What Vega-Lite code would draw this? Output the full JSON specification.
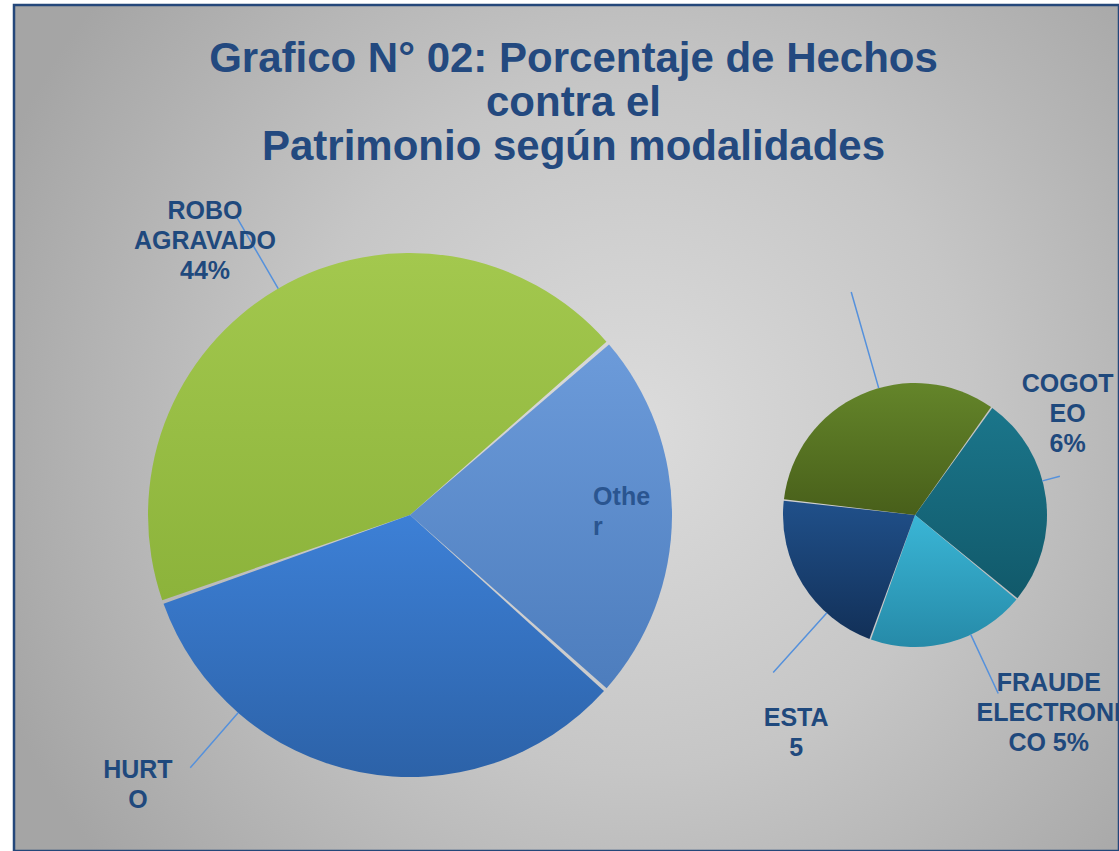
{
  "$schema": "https://vega.github.io/schema/vega-lite/v6.json",
  "width": 1105,
  "height": 846,
  "autosize": {"type": "none"},
  "padding": {"left": 14, "top": 5, "right": 0, "bottom": 0},
  "background": "#ffffff",
  "config": {
    "font": "Liberation Sans",
    "view": {
      "fill": {"gradient": "radial", "x1": 0.56, "y1": 0.5, "r1": 0, "x2": 0.56, "y2": 0.5, "r2": 0.62,
        "stops": [{"offset": 0, "color": "#dcdcdc"}, {"offset": 0.5, "color": "#c6c6c6"}, {"offset": 1, "color": "#a5a5a5"}]},
      "stroke": "#24477a",
      "strokeWidth": 2.5
    }
  },
  "title": {
    "text": ["Grafico N° 02: Porcentaje de Hechos", "contra el", "Patrimonio según modalidades"],
    "font": "Liberation Sans",
    "fontSize": 42,
    "fontWeight": "bold",
    "color": "#23497f",
    "lineHeight": 44,
    "anchor": "middle",
    "frame": "group",
    "offset": -164,
    "dx": 7
  },
  "data": {
    "values": [
      {"pie": "principal", "orden": 1, "categoria": "ROBO AGRAVADO", "valor": 44, "etiqueta": "ROBO\nAGRAVADO\n44%"},
      {"pie": "principal", "orden": 2, "categoria": "Other", "valor": 23, "etiqueta": "Othe\nr"},
      {"pie": "principal", "orden": 3, "categoria": "HURTO", "valor": 33, "etiqueta": "HURT\nO"},
      {"pie": "secundario", "orden": 1, "categoria": "COGOTEO", "valor": 6, "etiqueta": "COGOT\nEO\n6%"},
      {"pie": "secundario", "orden": 2, "categoria": "FRAUDE ELECTRONICO", "valor": 4.5, "etiqueta": "FRAUDE\nELECTRONI\nCO 5%"},
      {"pie": "secundario", "orden": 3, "categoria": "ESTAFA", "valor": 4.9, "etiqueta": "ESTA\n5"},
      {"pie": "secundario", "orden": 4, "categoria": "Sin etiqueta", "valor": 7.6, "etiqueta": ""}
    ]
  },
  "transform": [
    {"stack": "valor", "groupby": ["pie"], "sort": [{"field": "orden", "order": "ascending"}], "offset": "normalize", "as": ["t0", "t1"]},
    {"fold": ["t0", "t1"], "as": ["extremo", "angulo"]},
    {"aggregate": [
      {"op": "mean", "field": "angulo", "as": "medio"},
      {"op": "min", "field": "angulo", "as": "inicio"},
      {"op": "max", "field": "angulo", "as": "fin"}
    ], "groupby": ["pie", "orden", "categoria", "valor", "etiqueta"]}
  ],
  "encoding": {
    "x": {"field": "pie", "type": "nominal", "axis": null, "scale": {"type": "point", "padding": 0, "domain": ["principal", "secundario"], "range": [396, 901]}},
    "y": {"field": "pie", "type": "nominal", "axis": null, "scale": {"type": "point", "padding": 0, "domain": ["principal", "secundario"], "range": [510, 510]}}
  },
  "layer": [
    {
      "transform": [{"filter": "datum.pie === 'principal'"}],
      "mark": {"type": "arc", "outerRadius": 262, "padAngle": 0.015},
      "encoding": {
        "theta": {"field": "inicio", "type": "quantitative", "scale": {"domain": [0, 1], "range": [4.3738, 10.657]}},
        "theta2": {"field": "fin"},
        "fill": {
          "condition": [
            {"test": "datum.categoria === 'ROBO AGRAVADO'", "value": {"gradient": "linear", "x1": 0, "y1": 0, "x2": 0, "y2": 1, "stops": [{"offset": 0, "color": "#a3c84e"}, {"offset": 1, "color": "#8cb33b"}]}},
            {"test": "datum.categoria === 'Other'", "value": {"gradient": "linear", "x1": 0, "y1": 0, "x2": 0, "y2": 1, "stops": [{"offset": 0, "color": "#6c9bda"}, {"offset": 1, "color": "#4d7dbd"}]}}
          ],
          "value": {"gradient": "linear", "x1": 0, "y1": 0, "x2": 0, "y2": 1, "stops": [{"offset": 0, "color": "#3d80d6"}, {"offset": 1, "color": "#2c62a8"}]}
        }
      }
    },
    {
      "transform": [{"filter": "datum.pie === 'secundario'"}],
      "mark": {"type": "arc", "outerRadius": 132, "padAngle": 0.012},
      "encoding": {
        "theta": {"field": "inicio", "type": "quantitative", "scale": {"domain": [0, 1], "range": [0.6196, 6.9028]}},
        "theta2": {"field": "fin"},
        "fill": {
          "condition": [
            {"test": "datum.categoria === 'COGOTEO'", "value": {"gradient": "linear", "x1": 0, "y1": 0, "x2": 0, "y2": 1, "stops": [{"offset": 0, "color": "#1b768b"}, {"offset": 1, "color": "#11596a"}]}},
            {"test": "datum.categoria === 'FRAUDE ELECTRONICO'", "value": {"gradient": "linear", "x1": 0, "y1": 0, "x2": 0, "y2": 1, "stops": [{"offset": 0, "color": "#3ab6d6"}, {"offset": 1, "color": "#268aa8"}]}},
            {"test": "datum.categoria === 'ESTAFA'", "value": {"gradient": "linear", "x1": 0, "y1": 0, "x2": 0, "y2": 1, "stops": [{"offset": 0, "color": "#20508a"}, {"offset": 1, "color": "#123058"}]}}
          ],
          "value": {"gradient": "linear", "x1": 0, "y1": 0, "x2": 0, "y2": 1, "stops": [{"offset": 0, "color": "#64852a"}, {"offset": 1, "color": "#485f1a"}]}
        }
      }
    },
    {
      "transform": [{"filter": "datum.categoria === 'ROBO AGRAVADO'"}],
      "mark": {"type": "arc", "innerRadius": 262, "outerRadius": 346, "fill": null, "stroke": "#5591dc", "strokeWidth": 1.5},
      "encoding": {
        "theta": {"field": "medio", "type": "quantitative", "scale": {"domain": [0, 1], "range": [4.3738, 10.657]}},
        "theta2": {"field": "medio"}
      }
    },
    {
      "transform": [{"filter": "datum.categoria === 'HURTO'"}],
      "mark": {"type": "arc", "innerRadius": 262, "outerRadius": 335, "fill": null, "stroke": "#5591dc", "strokeWidth": 1.5, "thetaOffset": 0.52, "theta2Offset": 0.52},
      "encoding": {
        "theta": {"field": "medio", "type": "quantitative", "scale": {"domain": [0, 1], "range": [4.3738, 10.657]}},
        "theta2": {"field": "medio"}
      }
    },
    {
      "transform": [{"filter": "datum.categoria === 'COGOTEO'"}],
      "mark": {"type": "arc", "innerRadius": 132, "outerRadius": 150, "fill": null, "stroke": "#5591dc", "strokeWidth": 1.5, "thetaOffset": -0.13, "theta2Offset": -0.13},
      "encoding": {
        "theta": {"field": "medio", "type": "quantitative", "scale": {"domain": [0, 1], "range": [0.6196, 6.9028]}},
        "theta2": {"field": "medio"}
      }
    },
    {
      "transform": [{"filter": "datum.categoria === 'FRAUDE ELECTRONICO'"}],
      "mark": {"type": "arc", "innerRadius": 132, "outerRadius": 197, "fill": null, "stroke": "#5591dc", "strokeWidth": 1.5, "thetaOffset": -0.168, "theta2Offset": -0.168},
      "encoding": {
        "theta": {"field": "medio", "type": "quantitative", "scale": {"domain": [0, 1], "range": [0.6196, 6.9028]}},
        "theta2": {"field": "medio"}
      }
    },
    {
      "transform": [{"filter": "datum.categoria === 'ESTAFA'"}],
      "mark": {"type": "arc", "innerRadius": 132, "outerRadius": 212, "fill": null, "stroke": "#5591dc", "strokeWidth": 1.5, "thetaOffset": -0.283, "theta2Offset": -0.283},
      "encoding": {
        "theta": {"field": "medio", "type": "quantitative", "scale": {"domain": [0, 1], "range": [0.6196, 6.9028]}},
        "theta2": {"field": "medio"}
      }
    },
    {
      "transform": [{"filter": "datum.categoria === 'Sin etiqueta'"}],
      "mark": {"type": "arc", "innerRadius": 132, "outerRadius": 232, "fill": null, "stroke": "#5591dc", "strokeWidth": 1.5, "thetaOffset": 0.14, "theta2Offset": 0.14},
      "encoding": {
        "theta": {"field": "medio", "type": "quantitative", "scale": {"domain": [0, 1], "range": [0.6196, 6.9028]}},
        "theta2": {"field": "medio"}
      }
    },
    {
      "transform": [{"filter": "datum.categoria === 'ROBO AGRAVADO'"}],
      "mark": {"type": "text", "radius": 367, "thetaOffset": -0.0656, "font": "Liberation Sans", "fontSize": 25, "fontWeight": "bold", "color": "#1f497d", "lineBreak": "\n", "lineHeight": 30, "align": "center", "baseline": "middle"},
      "encoding": {
        "theta": {"field": "medio", "type": "quantitative", "stack": null, "scale": {"domain": [0, 1], "range": [4.3738, 10.657]}},
        "text": {"field": "etiqueta", "type": "nominal"}
      }
    },
    {
      "transform": [{"filter": "datum.categoria === 'Other'"}],
      "mark": {"type": "text", "radius": 184, "thetaOffset": -0.105, "font": "Liberation Sans", "fontSize": 25, "fontWeight": "bold", "color": "#2a5590", "lineBreak": "\n", "lineHeight": 30, "align": "left", "baseline": "middle"},
      "encoding": {
        "theta": {"field": "medio", "type": "quantitative", "stack": null, "scale": {"domain": [0, 1], "range": [4.3738, 10.657]}},
        "text": {"field": "etiqueta", "type": "nominal"}
      }
    },
    {
      "transform": [{"filter": "datum.categoria === 'HURTO'"}],
      "mark": {"type": "text", "radius": 373, "thetaOffset": 0.622, "font": "Liberation Sans", "fontSize": 25, "fontWeight": "bold", "color": "#1f497d", "lineBreak": "\n", "lineHeight": 30, "align": "center", "baseline": "middle"},
      "encoding": {
        "theta": {"field": "medio", "type": "quantitative", "stack": null, "scale": {"domain": [0, 1], "range": [4.3738, 10.657]}},
        "text": {"field": "etiqueta", "type": "nominal"}
      }
    },
    {
      "transform": [{"filter": "datum.categoria === 'COGOTEO'"}],
      "mark": {"type": "text", "radius": 201, "thetaOffset": -0.577, "font": "Liberation Sans", "fontSize": 25, "fontWeight": "bold", "color": "#1f497d", "lineBreak": "\n", "lineHeight": 30, "align": "center", "baseline": "middle"},
      "encoding": {
        "theta": {"field": "medio", "type": "quantitative", "stack": null, "scale": {"domain": [0, 1], "range": [0.6196, 6.9028]}},
        "text": {"field": "etiqueta", "type": "nominal"}
      }
    },
    {
      "transform": [{"filter": "datum.categoria === 'FRAUDE ELECTRONICO'"}],
      "mark": {"type": "text", "radius": 215, "thetaOffset": -0.403, "font": "Liberation Sans", "fontSize": 25, "fontWeight": "bold", "color": "#1f497d", "lineBreak": "\n", "lineHeight": 30, "align": "center", "baseline": "middle"},
      "encoding": {
        "theta": {"field": "medio", "type": "quantitative", "stack": null, "scale": {"domain": [0, 1], "range": [0.6196, 6.9028]}},
        "text": {"field": "etiqueta", "type": "nominal"}
      }
    },
    {
      "transform": [{"filter": "datum.categoria === 'ESTAFA'"}],
      "mark": {"type": "text", "radius": 235, "thetaOffset": -0.4854, "font": "Liberation Sans", "fontSize": 25, "fontWeight": "bold", "color": "#1f497d", "lineBreak": "\n", "lineHeight": 30, "align": "center", "baseline": "middle"},
      "encoding": {
        "theta": {"field": "medio", "type": "quantitative", "stack": null, "scale": {"domain": [0, 1], "range": [0.6196, 6.9028]}},
        "text": {"field": "etiqueta", "type": "nominal"}
      }
    }
  ],
  "resolve": {"scale": {"theta": "independent"}}
}
